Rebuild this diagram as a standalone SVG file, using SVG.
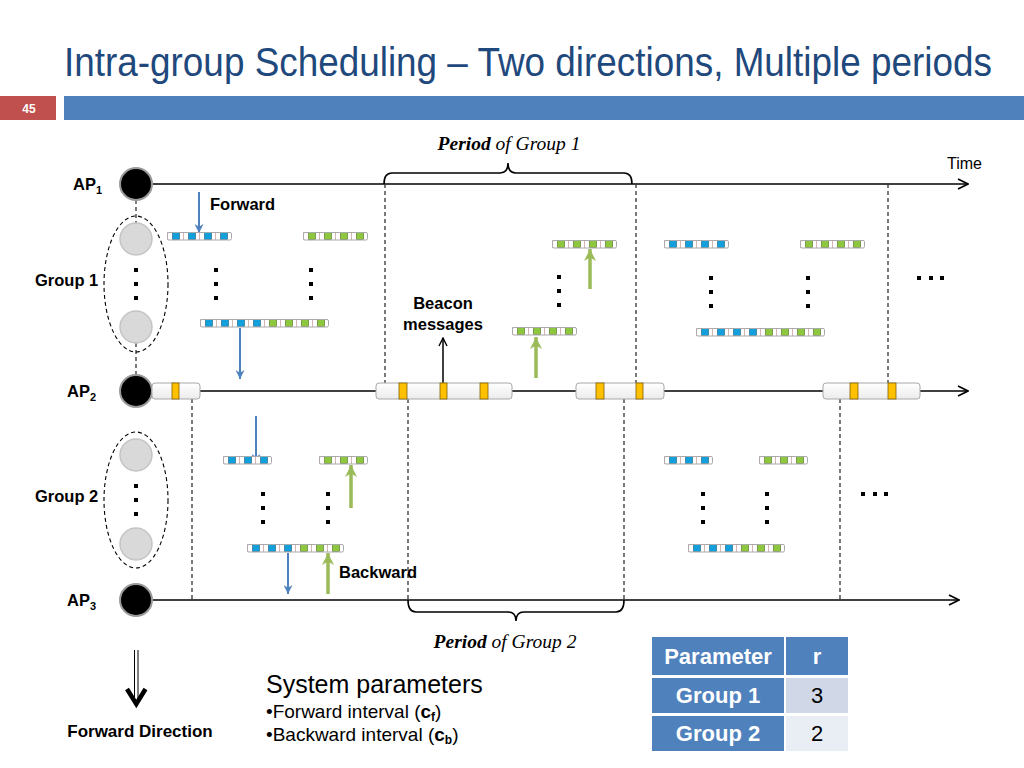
<svg xmlns="http://www.w3.org/2000/svg" width="1024" height="768" viewBox="0 0 1024 768">
<style>
text{font-family:"Liberation Sans",Arial,sans-serif;}
.lbl{font-weight:bold;font-size:16.5px;fill:#000;}
.per{font-family:"Liberation Serif","Times New Roman",serif;font-style:italic;font-size:19.5px;}
.tl{stroke:#000;stroke-width:1.6;fill:none;}
.dash{stroke:#333;stroke-width:1.3;stroke-dasharray:4 3;fill:none;}
.ap{fill:#000;stroke:#9a9a9a;stroke-width:2;}
.node{fill:#d9d9d9;stroke:#c4c4c4;stroke-width:1.5;}
.ell{fill:none;stroke:#000;stroke-width:1.1;stroke-dasharray:4 3;}
.bar{fill:url(#barfill);stroke:#a8a8a8;stroke-width:1;}
.bcn{fill:#FFC000;stroke:#7f6000;stroke-width:0.8;}
.blue{stroke:#4F81BD;stroke-width:2;fill:none;}
.green{stroke:#9BBB59;stroke-width:3.5;fill:none;}
.th{font-weight:bold;font-size:22px;fill:#fff;text-anchor:middle;}
.td{font-size:22px;fill:#000;text-anchor:middle;}
</style>
<defs>
<linearGradient id="barfill" x1="0" y1="0" x2="0" y2="1">
<stop offset="0" stop-color="#ffffff"/><stop offset="1" stop-color="#ececec"/>
</linearGradient>
<pattern id="pb" width="16" height="8" patternUnits="userSpaceOnUse">
<rect width="16" height="8" fill="#fff"/>
<line x1="0.5" y1="0" x2="0.5" y2="8" stroke="#c9a3a3" stroke-width="0.8"/>
<rect x="5.5" y="0.5" width="7" height="7" fill="#12A0DC" stroke="#1b5a80" stroke-width="0.6"/>
</pattern>
<pattern id="pg" width="16" height="8" patternUnits="userSpaceOnUse">
<rect width="16" height="8" fill="#fff"/>
<line x1="0.5" y1="0" x2="0.5" y2="8" stroke="#c9a3a3" stroke-width="0.8"/>
<rect x="5.5" y="0.5" width="7" height="7" fill="#8DC63F" stroke="#4a6e1e" stroke-width="0.6"/>
</pattern>
<g id="b8"><rect width="64" height="8" fill="url(#pb)"/><rect x="0.5" y="0.5" width="64" height="7.5" rx="1.5" fill="none" stroke="#aaa"/></g>
<g id="g8"><rect width="64" height="8" fill="url(#pg)"/><rect x="0.5" y="0.5" width="64" height="7.5" rx="1.5" fill="none" stroke="#aaa"/></g>
<g id="bg16"><rect width="64" height="8" fill="url(#pb)"/><rect x="64" width="64" height="8" fill="url(#pg)"/><rect x="0.5" y="0.5" width="128" height="7.5" rx="1.5" fill="none" stroke="#aaa"/></g>
<g id="b6"><rect width="48" height="8" fill="url(#pb)"/><rect x="0.5" y="0.5" width="48" height="7.5" rx="1.5" fill="none" stroke="#aaa"/></g>
<g id="g6"><rect width="48" height="8" fill="url(#pg)"/><rect x="0.5" y="0.5" width="48" height="7.5" rx="1.5" fill="none" stroke="#aaa"/></g>
<g id="bg12"><rect width="48" height="8" fill="url(#pb)"/><rect x="48" width="48" height="8" fill="url(#pg)"/><rect x="0.5" y="0.5" width="96" height="7.5" rx="1.5" fill="none" stroke="#aaa"/></g>
<g id="vdots"><rect x="-2" y="-2" width="4" height="4"/><rect x="-2" y="12" width="4" height="4"/><rect x="-2" y="26" width="4" height="4"/></g>
<g id="hdots"><rect x="-2" y="-2" width="4" height="4"/><rect x="10" y="-2" width="4" height="4"/><rect x="21" y="-2" width="4" height="4"/></g>
<marker id="open" viewBox="0 0 12 12" refX="11" refY="6" markerWidth="12" markerHeight="12" markerUnits="userSpaceOnUse" orient="auto">
<polyline points="1,1 11,6 1,11" fill="none" stroke="#000" stroke-width="1.6"/>
</marker>
<marker id="openS" viewBox="0 0 10 10" refX="9" refY="5" markerWidth="10" markerHeight="10" markerUnits="userSpaceOnUse" orient="auto">
<polyline points="1,1 9,5 1,9" fill="none" stroke="#000" stroke-width="1.4"/>
</marker>
<marker id="bh" viewBox="0 0 10 10" refX="10" refY="5" markerWidth="10" markerHeight="9" markerUnits="userSpaceOnUse" orient="auto">
<path d="M0,0 L10,5 L0,10 L3,5 Z" fill="#4F81BD"/>
</marker>
<marker id="gh" viewBox="0 0 10 10" refX="10" refY="5" markerWidth="12" markerHeight="13" markerUnits="userSpaceOnUse" orient="auto">
<path d="M0,0 L10,5 L0,10 L3,5 Z" fill="#9BBB59"/>
</marker>
</defs>

<rect width="1024" height="768" fill="#fff"/>

<!-- header -->
<g id="header">
<text transform="translate(64,76) scale(0.922,1)" x="0" y="0" font-size="40" fill="#1F497D">Intra-group Scheduling – Two directions, Multiple periods</text>
<rect x="0" y="96" width="56" height="24" fill="#C0504D"/>
<text x="29" y="113" font-size="12" font-weight="bold" fill="#fff" text-anchor="middle">45</text>
<rect x="64" y="96" width="960" height="24" fill="#4F81BD"/>
</g>

<!-- connectors / timelines -->
<g id="connectors">
<line class="tl" x1="152" y1="184" x2="968" y2="184" marker-end="url(#open)"/>
<line class="tl" x1="152" y1="391" x2="968" y2="391" marker-end="url(#open)"/>
<line class="tl" x1="152" y1="600" x2="959" y2="600" marker-end="url(#open)"/>
<line class="dash" x1="136" y1="200" x2="136" y2="223"/>
<line class="dash" x1="136" y1="343" x2="136" y2="375"/>
<line class="dash" x1="385" y1="184" x2="385" y2="383"/>
<line class="dash" x1="636" y1="184" x2="636" y2="383"/>
<line class="dash" x1="888" y1="184" x2="888" y2="383"/>
<line class="dash" x1="192" y1="399" x2="192" y2="600"/>
<line class="dash" x1="408" y1="399" x2="408" y2="600"/>
<line class="dash" x1="624" y1="399" x2="624" y2="600"/>
<line class="dash" x1="840" y1="399" x2="840" y2="600"/>
<path class="tl" stroke-width="1.3" d="M384,184 Q384,173 392,173 L500,173 Q508,173 508,163 Q508,173 516,173 L624,173 Q632,173 632,184"/>
<path class="tl" stroke-width="1.3" d="M408,600 Q408,612 416,612 L508,612 Q516,612 516,621 Q516,612 524,612 L616,612 Q624,612 624,600"/>
<line class="blue" x1="199" y1="192" x2="199" y2="233" marker-end="url(#bh)"/>
<line class="blue" x1="240" y1="328" x2="240" y2="379" marker-end="url(#bh)"/>
<line class="green" x1="590" y1="289" x2="590" y2="249" marker-end="url(#gh)"/>
<line class="green" x1="536" y1="378" x2="536" y2="337" marker-end="url(#gh)"/>
<line class="blue" x1="256" y1="416" x2="256" y2="463" marker-end="url(#bh)"/>
<line class="green" x1="351" y1="508" x2="351" y2="465" marker-end="url(#gh)"/>
<line class="blue" x1="288" y1="553" x2="288" y2="594" marker-end="url(#bh)"/>
<line class="green" x1="328" y1="594" x2="328" y2="553" marker-end="url(#gh)"/>
<line x1="443" y1="383" x2="443" y2="338" stroke="#000" stroke-width="1.5" marker-end="url(#openS)"/>
</g>

<!-- AP nodes -->
<g id="ap1"><circle class="ap" cx="136" cy="184" r="16"/><text class="lbl" x="73" y="190">AP<tspan font-size="11" dy="4">1</tspan></text></g>
<g id="ap2"><circle class="ap" cx="136" cy="391" r="16"/><text class="lbl" x="67" y="397">AP<tspan font-size="11" dy="4">2</tspan></text></g>
<g id="ap3"><circle class="ap" cx="136" cy="600" r="16"/><text class="lbl" x="67" y="606">AP<tspan font-size="11" dy="4">3</tspan></text></g>

<!-- Group 1 -->
<g id="group1">
<ellipse class="ell" cx="136" cy="284" rx="32" ry="68"/>
<circle class="node" cx="136" cy="239" r="16"/>
<circle class="node" cx="136" cy="327" r="16"/>
<use href="#vdots" x="136" y="270"/>
<text class="lbl" x="35" y="286">Group 1</text>
</g>

<!-- Group 2 -->
<g id="group2">
<ellipse class="ell" cx="136" cy="500" rx="32" ry="68"/>
<circle class="node" cx="136" cy="455" r="16"/>
<circle class="node" cx="136" cy="544" r="16"/>
<use href="#vdots" x="136" y="486"/>
<text class="lbl" x="35" y="502">Group 2</text>
</g>

<!-- AP2 beacon bars -->
<g id="beacons">
<rect class="bar" x="152" y="383" width="48" height="16" rx="3"/>
<rect class="bcn" x="172" y="383" width="7" height="16"/>
<rect class="bar" x="376" y="383" width="136" height="16" rx="3"/>
<rect class="bcn" x="399" y="383" width="8" height="16"/>
<rect class="bcn" x="440" y="383" width="7" height="16"/>
<rect class="bcn" x="480" y="383" width="8" height="16"/>
<rect class="bar" x="576" y="383" width="88" height="16" rx="3"/>
<rect class="bcn" x="596" y="383" width="8" height="16"/>
<rect class="bcn" x="636" y="383" width="7" height="16"/>
<rect class="bar" x="823" y="383" width="97" height="16" rx="3"/>
<rect class="bcn" x="850" y="383" width="8" height="16"/>
<rect class="bcn" x="888" y="383" width="8" height="16"/>
</g>

<!-- packet bars group 1 -->
<g id="packets1">
<use href="#b8" x="167" y="232"/>
<use href="#g8" x="303" y="232"/>
<use href="#bg16" x="200" y="319"/>
<use href="#vdots" x="216" y="270"/>
<use href="#vdots" x="311" y="270"/>
<use href="#g8" x="552" y="240"/>
<use href="#g8" x="512" y="327"/>
<use href="#vdots" x="559" y="277"/>
<use href="#b8" x="664" y="240"/>
<use href="#g8" x="800" y="240"/>
<use href="#bg16" x="696" y="328"/>
<use href="#vdots" x="711" y="278"/>
<use href="#vdots" x="808" y="278"/>
<use href="#hdots" x="919" y="278"/>
</g>

<!-- packet bars group 2 -->
<g id="packets2">
<use href="#b6" x="223" y="456"/>
<use href="#g6" x="319" y="456"/>
<use href="#bg12" x="247" y="544"/>
<use href="#vdots" x="263" y="494"/>
<use href="#vdots" x="328" y="494"/>
<use href="#b6" x="664" y="456"/>
<use href="#g6" x="759" y="456"/>
<use href="#bg12" x="688" y="544"/>
<use href="#vdots" x="703" y="494"/>
<use href="#vdots" x="767" y="494"/>
<use href="#hdots" x="863" y="494"/>
</g>

<!-- labels -->
<g id="labels">
<text x="947" y="169" font-size="16">Time</text>
<text class="lbl" x="210" y="210">Forward</text>
<text class="lbl" x="443" y="309" text-anchor="middle">Beacon</text>
<text class="lbl" x="443" y="330" text-anchor="middle">messages</text>
<text class="lbl" x="339" y="578">Backward</text>
<text class="per" x="509" y="150" text-anchor="middle"><tspan font-weight="bold">Period</tspan> of Group 1</text>
<text class="per" x="505" y="648" text-anchor="middle"><tspan font-weight="bold">Period</tspan> of Group 2</text>
</g>

<!-- forward direction -->
<g id="fwddir">
<line x1="134.5" y1="650" x2="134.5" y2="700" stroke="#000" stroke-width="1"/>
<line x1="138" y1="650" x2="138" y2="700" stroke="#000" stroke-width="1"/>
<polyline points="127,689 136.3,704 145.5,689" fill="none" stroke="#000" stroke-width="4.5"/>
<text x="140" y="737" font-size="17" font-weight="bold" text-anchor="middle">Forward Direction</text>
</g>

<!-- system parameters -->
<g id="sysparams">
<text x="266" y="693" font-size="25">System parameters</text>
<text x="266" y="718" font-size="19">•Forward interval (<tspan font-weight="bold">c</tspan><tspan font-weight="bold" font-size="12" dy="3">f</tspan><tspan dy="-3">)</tspan></text>
<text x="266" y="741" font-size="19">•Backward interval (<tspan font-weight="bold">c</tspan><tspan font-weight="bold" font-size="12" dy="3">b</tspan><tspan dy="-3">)</tspan></text>
</g>

<!-- table -->
<g id="table">
<rect x="652" y="637" width="132" height="38" fill="#4F81BD"/>
<rect x="786" y="637" width="62" height="38" fill="#4F81BD"/>
<rect x="652" y="678" width="132" height="35" fill="#4F81BD"/>
<rect x="786" y="678" width="62" height="35" fill="#D0D8E8"/>
<rect x="652" y="716" width="132" height="35" fill="#4F81BD"/>
<rect x="786" y="716" width="62" height="35" fill="#E9EDF4"/>
<text class="th" x="718" y="664">Parameter</text>
<text class="th" x="817" y="664">r</text>
<text class="th" x="718" y="703">Group 1</text>
<text class="td" x="817" y="703">3</text>
<text class="th" x="718" y="741">Group 2</text>
<text class="td" x="817" y="741">2</text>
</g>
</svg>
